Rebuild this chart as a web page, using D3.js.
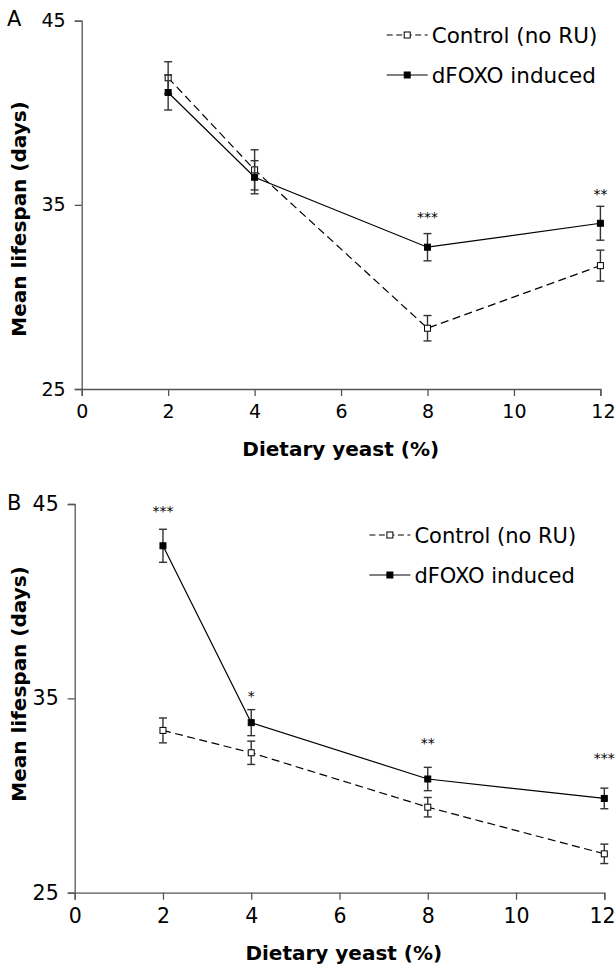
<!DOCTYPE html>
<html>
<head>
<meta charset="utf-8">
<script src="https://cdn.jsdelivr.net/npm/d3@7"></script>
<style>
  body { margin: 0; background: #fff; }
  svg text { font-family: "DejaVu Sans", Verdana, sans-serif; fill: #000; }
</style>
</head>
<body>
<svg id="chart"></svg>
<script>
const yeast = [2, 4, 8, 12]
const xTicks = [0, 2, 4, 6, 8, 10, 12]
const yTicks = [25, 35, 45]
const seriesNames = ["Control (no RU)", "dFOXO induced"]

// panel A
const ctrlA = [41.9, 36.9, 28.3, 31.7]
const ctrlAErr = [0.87, 1.09, 0.69, 0.84]
const foxoA = [41.1, 36.5, 32.7, 34.0]
const foxoAErr = [0.95, 0.9, 0.74, 0.92]
const starsA = ["", "", "***", "**"]
const starLevelA = [0, 0, 34.5, 35.75]

// panel B
const ctrlB = [33.35, 32.2, 29.4, 27.0]
const ctrlBErr = [0.64, 0.6, 0.5, 0.5]
const foxoB = [42.85, 33.75, 30.85, 29.85]
const foxoBErr = [0.85, 0.67, 0.6, 0.53]
const starsB = ["***", "*", "**", "***"]
const starLevelB = [44.8, 35.25, 32.85, 32.1]

const w = 616
const h = 964

const svg = d3.select("#chart")
  .attr("width", w)
  .attr("height", h)

function drawPanel(p) {
  const g = svg.append("g")

  const x = d3.scaleLinear().domain([0, 12]).range([p.left, p.right])
  const y = d3.scaleLinear().domain([25, 45]).range([p.bottom, p.top])

  const xAxis = d3.axisBottom(x).tickValues(xTicks).tickSize(7).tickPadding(8.5)
  const yAxis = d3.axisLeft(y).tickValues(yTicks).tickSize(7).tickPadding(9)

  const gx = g.append("g")
    .attr("transform", `translate(0, ${p.bottom})`)
    .call(xAxis)
  const gy = g.append("g")
    .attr("transform", `translate(${p.left}, 0)`)
    .call(yAxis)

  for (const ax of [gx, gy]) {
    ax.attr("font-family", null)
    ax.select(".domain").attr("stroke", "#555").attr("stroke-width", 1.3)
    ax.selectAll(".tick line").attr("stroke", "#555").attr("stroke-width", 1.3)
    ax.selectAll(".tick text").attr("font-size", p.tickFont)
  }
  // keep the last label inside the page edge
  gx.selectAll(".tick text").filter(d => d === 12)
    .attr("text-anchor", "end").attr("dx", w - 1 - p.right)

  // x axis title
  g.append("text")
    .attr("x", p.titleX)
    .attr("y", p.bottom + 67)
    .attr("text-anchor", "middle")
    .attr("font-size", 20)
    .attr("font-weight", "bold")
    .text("Dietary yeast (%)")

  // y axis title
  g.append("text")
    .attr("transform", `translate(25.5, ${p.yTitleY}) rotate(-90)`)
    .attr("text-anchor", "middle")
    .attr("font-size", 20)
    .attr("font-weight", "bold")
    .text("Mean lifespan (days)")

  // panel letter
  g.append("text")
    .attr("x", 7)
    .attr("y", p.top + 5.5)
    .attr("font-size", 21)
    .text(p.letter)

  const line = d3.line().x(d => x(d.x)).y(d => y(d.v))

  const series = [
    { vals: p.ctrl, errs: p.ctrlErr, dash: "8,4.5", fill: "#fff" },
    { vals: p.foxo, errs: p.foxoErr, dash: null, fill: "#000" }
  ]

  series.forEach(s => {
    const pts = yeast.map((xv, i) => ({ x: xv, v: s.vals[i], e: s.errs[i] }))

    g.append("path")
      .datum(pts)
      .attr("d", line)
      .attr("fill", "none")
      .attr("stroke", "#000")
      .attr("stroke-width", 1.2)
      .attr("stroke-dasharray", s.dash)

    const eb = g.selectAll(null).data(pts).enter().append("g").attr("stroke", "#333").attr("stroke-width", 1.4)
    eb.append("line")
      .attr("x1", d => x(d.x)).attr("x2", d => x(d.x))
      .attr("y1", d => y(d.v - d.e)).attr("y2", d => y(d.v + d.e))
    eb.append("line")
      .attr("x1", d => x(d.x) - 4).attr("x2", d => x(d.x) + 4)
      .attr("y1", d => y(d.v + d.e)).attr("y2", d => y(d.v + d.e))
    eb.append("line")
      .attr("x1", d => x(d.x) - 4).attr("x2", d => x(d.x) + 4)
      .attr("y1", d => y(d.v - d.e)).attr("y2", d => y(d.v - d.e))

    g.selectAll(null).data(pts).enter().append("rect")
      .attr("x", d => x(d.x) - 3)
      .attr("y", d => y(d.v) - 3)
      .attr("width", 6)
      .attr("height", 6)
      .attr("fill", s.fill)
      .attr("stroke", "#000")
      .attr("stroke-width", 1)
  })

  // significance stars
  g.selectAll(null).data(yeast.map((xv, i) => ({ x: xv, s: p.stars[i], v: p.starLevel[i] })).filter(d => d.s))
    .enter().append("text")
    .attr("x", d => x(d.x))
    .attr("y", d => y(d.v) + 8)
    .attr("text-anchor", "middle")
    .attr("font-size", 14)
    .text(d => d.s)

  // legend
  const lg = g.append("g").attr("transform", `translate(${p.legX}, ${p.legY})`)
  seriesNames.forEach((name, i) => {
    const row = lg.append("g").attr("transform", `translate(0, ${i * 40})`)
    row.append("line")
      .attr("x1", 0).attr("x2", 41).attr("y1", 0).attr("y2", 0)
      .attr("stroke", "#000").attr("stroke-width", 1.2)
      .attr("stroke-dasharray", i === 0 ? "6,3.5" : null)
    row.append("rect")
      .attr("x", 17.5).attr("y", -3).attr("width", 6).attr("height", 6)
      .attr("fill", i === 0 ? "#fff" : "#000").attr("stroke", "#000")
    row.append("text")
      .attr("x", 45).attr("y", 7.5)
      .attr("font-size", p.legFont)
      .text(name)
  })
}

drawPanel({
  letter: "A", left: 81.7, right: 600.4, top: 20.7, bottom: 389,
  ctrl: ctrlA, ctrlErr: ctrlAErr, foxo: foxoA, foxoErr: foxoAErr,
  stars: starsA, starLevel: starLevelA, legX: 386.7, legY: 35,
  titleX: 340.7, yTitleY: 219, tickFont: 19, legFont: 21.5
})

drawPanel({
  letter: "B", left: 74.7, right: 604.3, top: 504, bottom: 892.7,
  ctrl: ctrlB, ctrlErr: ctrlBErr, foxo: foxoB, foxoErr: foxoBErr,
  stars: starsB, starLevel: starLevelB, legX: 369.4, legY: 535,
  titleX: 343.8, yTitleY: 684, tickFont: 20.5, legFont: 21
})
</script>
</body>
</html>
